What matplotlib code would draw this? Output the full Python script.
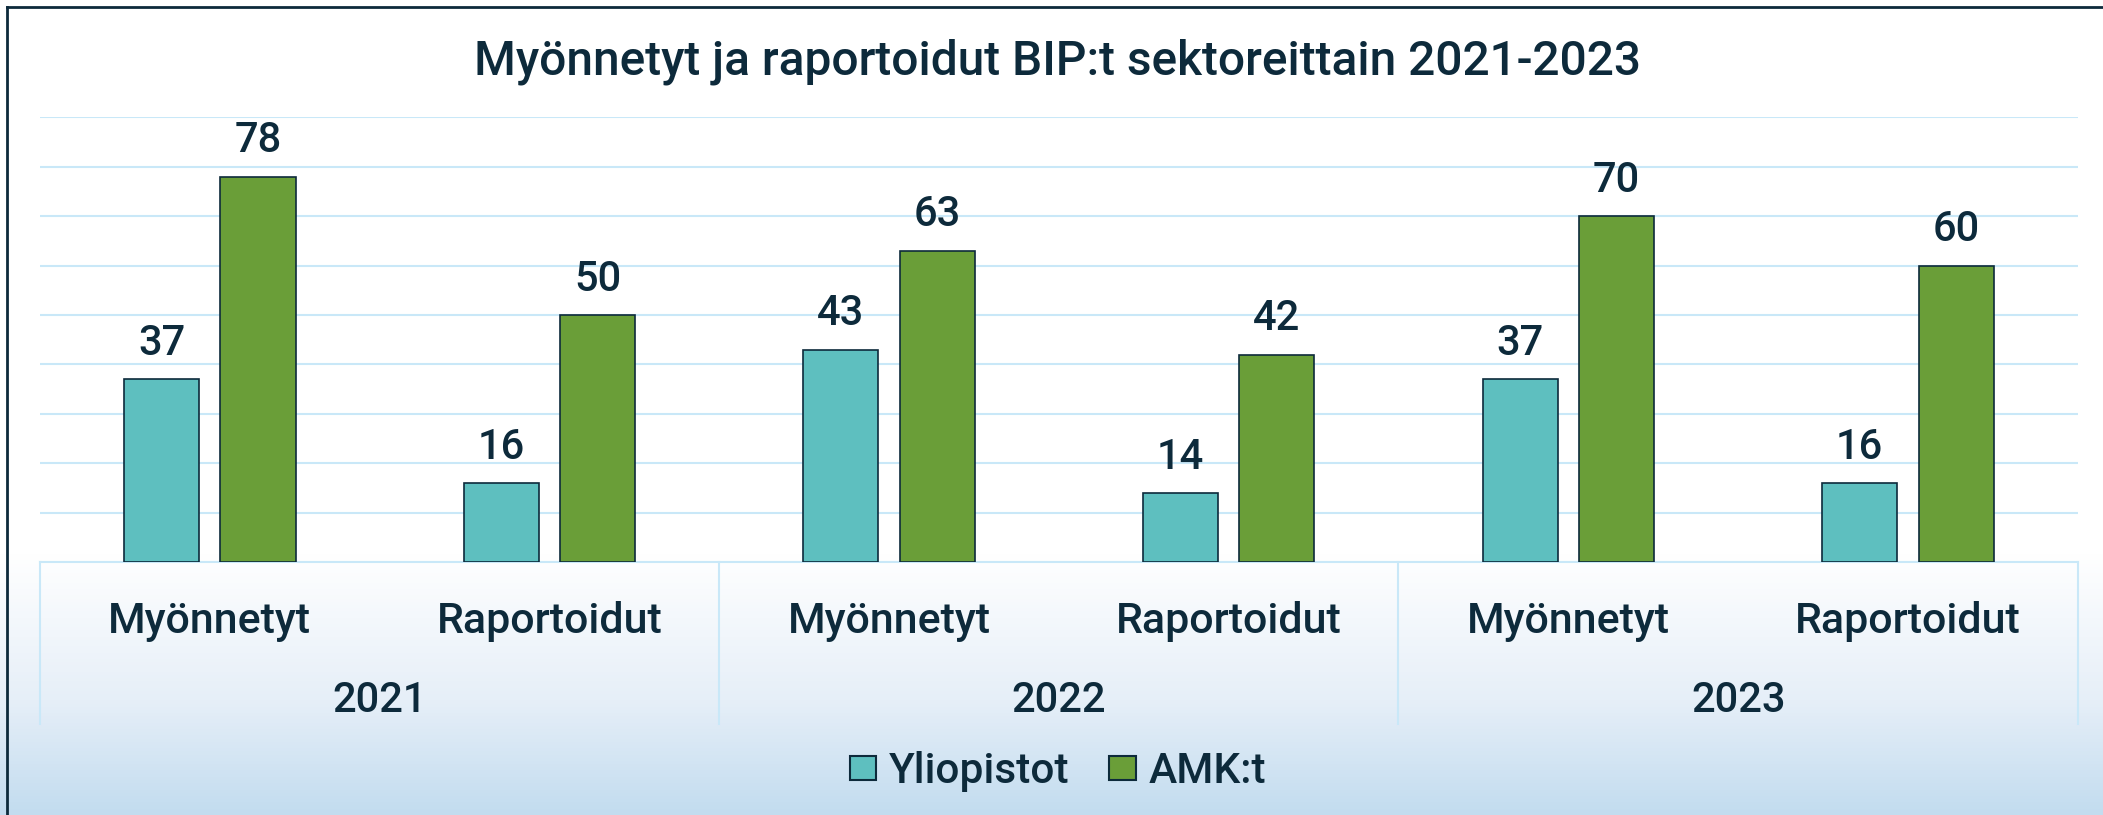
import numpy as np
import matplotlib
matplotlib.use("Agg")
import matplotlib.pyplot as plt
import matplotlib.transforms as mtransforms
from matplotlib.colors import LinearSegmentedColormap
from matplotlib.lines import Line2D
from matplotlib.patches import Patch

plt.rcParams['font.family'] = ['Roboto', 'DejaVu Sans']

# data
years = ['2021', '2022', '2023']
kinds = ['Myönnetyt', 'Raportoidut']
yliopistot = [37, 16, 43, 14, 37, 16]
amkt = [78, 50, 63, 42, 70, 60]
series_names = ['Yliopistot', 'AMK:t']
title = 'Myönnetyt ja raportoidut BIP:t sektoreittain 2021-2023'

text_col = '#0d2a3b'
teal = '#5ebfbf'
green = '#6a9e38'
grid_col = '#c9e8f8'

fig = plt.figure(figsize=(21.03, 8.15), dpi=100)

# gradient background
bg = fig.add_axes([0, 0, 1, 1], zorder=-10)
cmap = LinearSegmentedColormap.from_list(
    'bg', [(0.0, '#c3dcef'), (0.14, '#e6eff8'), (0.32, '#ffffff'), (1.0, '#ffffff')])
grad = np.linspace(0, 1, 256).reshape(-1, 1)
bg.imshow(grad, aspect='auto', cmap=cmap, origin='lower', extent=[0, 1, 0, 1])
bg.set_axis_off()

# border (left and top visible)
fig.add_artist(Line2D([0.0035, 0.0035], [0, 0.992], color=text_col, lw=2, transform=fig.transFigure))
fig.add_artist(Line2D([0.0035, 1], [0.992, 0.992], color=text_col, lw=2, transform=fig.transFigure))

ax = fig.add_axes([0.019, 0.3104, 0.969, 0.5456])
ax.patch.set_alpha(0)

x = np.arange(len(yliopistot))
off = 0.142
w = 0.221
b1 = ax.bar(x - off, yliopistot, w, color=teal, edgecolor=text_col, lw=1.2, zorder=3)
b2 = ax.bar(x + off, amkt, w, color=green, edgecolor=text_col, lw=1.2, zorder=3)

for bars, vals in ((b1, yliopistot), (b2, amkt)):
    for r, v in zip(bars, vals):
        ax.annotate(str(v), (r.get_x() + r.get_width() / 2, v), xytext=(0, 11),
                    textcoords='offset points', ha='center', va='bottom',
                    fontsize=30, color=text_col, fontweight='medium')

ax.set_xlim(-0.5, 5.5)
ax.set_ylim(0, 90)
ax.set_yticks(np.arange(10, 91, 10))
ax.yaxis.grid(True, color=grid_col, lw=1.5, zorder=0)
ax.tick_params(axis='y', length=0, labelleft=False)
ax.set_xticks([])
for s in ax.spines.values():
    s.set_visible(False)

trans = mtransforms.blended_transform_factory(ax.transData, ax.transAxes)
ax.plot([-0.5, 5.5], [0, 0], color=grid_col, lw=1.5, transform=trans, clip_on=False, zorder=1)
for sx in [-0.5, 1.5, 3.5, 5.5]:
    ax.plot([sx, sx], [0, -0.365], color=grid_col, lw=1.5, transform=trans, clip_on=False)
for i, lab in enumerate(kinds * len(years)):
    ax.text(x[i], -0.160, lab, transform=trans, ha='center', va='baseline',
            fontsize=31, color=text_col, fontweight='medium')
for i, yr in enumerate(years):
    ax.text(2 * i + 0.5, -0.338, yr, transform=trans, ha='center', va='baseline',
            fontsize=30, color=text_col, fontweight='medium')

fig.text(0.503, 0.908, title, ha='center', va='baseline', fontsize=34.5,
         color=text_col, fontweight='medium')

handles = [Patch(facecolor=teal, edgecolor=text_col, lw=1.5),
           Patch(facecolor=green, edgecolor=text_col, lw=1.5)]
fig.legend(handles, series_names, loc='center', bbox_to_anchor=(0.503, 0.053), ncol=2,
           frameon=False, handlelength=0.62, handleheight=0.5,
           handletextpad=0.3, columnspacing=0.95, labelcolor=text_col,
           prop={'weight': 'medium', 'size': 30.5})

fig.savefig('out.png', dpi=100)
